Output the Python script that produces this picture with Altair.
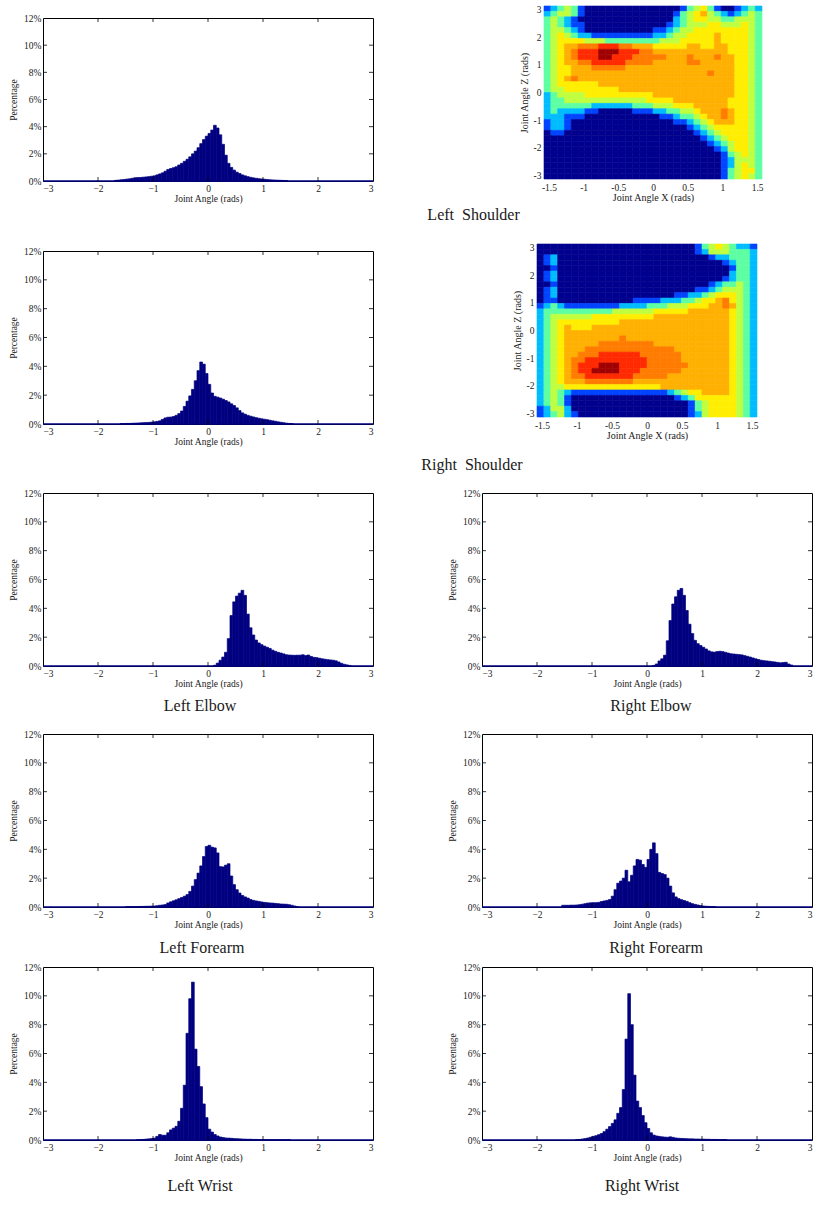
import math
import altair as alt
import pandas as pd

SERIF = "Liberation Serif"
NAVY = "#000080"
INK = "#1a1a1a"

# ---------------------------------------------------------------- histograms
# percentage of frames per 0.05 rad bin, listed from the bin that starts at *_START
BIN = 0.05
X_TICKS = [-3, -2, -1, 0, 1, 2, 3]
Y_TICKS = [0, 2, 4, 6, 8, 10, 12]

LS_START = -1.70
LS = [0.05, 0.07, 0.09, 0.11, 0.14, 0.16, 0.20, 0.24, 0.25, 0.26, 0.28, 0.30, 0.32, 0.35,
      0.38, 0.45, 0.52, 0.60, 0.72, 0.85, 0.92, 0.98, 1.05, 1.18, 1.30, 1.45, 1.60, 1.78,
      2.00, 2.20, 2.45, 2.75, 3.05, 3.30, 3.50, 3.75, 4.10, 3.90, 3.40, 2.70, 1.90, 1.30,
      1.00, 0.80, 0.65, 0.55, 0.45, 0.38, 0.32, 0.27, 0.23, 0.20, 0.17, 0.15, 0.13, 0.11,
      0.09, 0.08, 0.07, 0.06, 0.05, 0.04, 0.03]

RS_START = -1.60
RS = [0.03, 0.03, 0.04, 0.04, 0.05, 0.06, 0.07, 0.08, 0.09, 0.10, 0.11, 0.13, 0.15, 0.18,
      0.22, 0.32, 0.42, 0.47, 0.48, 0.52, 0.60, 0.72, 0.90, 1.22, 1.58, 1.95, 2.40, 3.00,
      3.70, 4.30, 4.15, 3.50, 2.75, 2.15, 1.92, 1.86, 1.80, 1.72, 1.63, 1.53, 1.40, 1.28,
      1.12, 0.93, 0.77, 0.68, 0.60, 0.54, 0.49, 0.44, 0.40, 0.36, 0.33, 0.30, 0.26, 0.22,
      0.19, 0.15, 0.12, 0.09, 0.06, 0.04, 0.03]

LE_START = 0.10
LE = [0.05, 0.20, 0.40, 0.62, 0.95, 1.90, 3.50, 4.45, 4.85, 5.05, 5.25, 4.90, 3.60, 2.65,
      2.15, 1.80, 1.60, 1.48, 1.38, 1.30, 1.22, 1.10, 1.02, 0.95, 0.90, 0.84, 0.78, 0.76,
      0.75, 0.74, 0.75, 0.75, 0.78, 0.72, 0.76, 0.66, 0.60, 0.58, 0.54, 0.50, 0.47, 0.44,
      0.42, 0.40, 0.36, 0.28, 0.19, 0.12, 0.08, 0.04]

RE_START = 0.10
RE = [0.04, 0.14, 0.35, 0.50, 0.75, 1.75, 3.15, 4.30, 4.80, 5.25, 5.38, 4.90, 3.85, 2.90,
      2.25, 1.78, 1.55, 1.42, 1.30, 1.18, 1.05, 0.98, 0.96, 1.00, 1.02, 1.00, 0.95, 0.90,
      0.85, 0.83, 0.81, 0.79, 0.77, 0.72, 0.67, 0.62, 0.56, 0.50, 0.45, 0.40, 0.37, 0.35,
      0.33, 0.30, 0.28, 0.25, 0.22, 0.24, 0.26, 0.14, 0.07]

LF_START = -1.50
LF = [0.02, 0.02, 0.03, 0.03, 0.03, 0.04, 0.04, 0.05, 0.05, 0.06, 0.07, 0.09, 0.12, 0.14,
      0.17, 0.28, 0.36, 0.43, 0.50, 0.58, 0.66, 0.75, 0.86, 1.08, 1.45, 1.90, 2.35, 2.85,
      3.50, 4.20, 4.28, 4.15, 4.10, 3.75, 2.80, 2.78, 2.90, 3.00, 2.15, 1.55, 1.20, 0.97,
      0.80, 0.70, 0.62, 0.52, 0.46, 0.42, 0.39, 0.35, 0.32, 0.30, 0.28, 0.27, 0.25, 0.23,
      0.21, 0.20, 0.19, 0.16, 0.12, 0.07, 0.02]

RF_START = -1.55
RF = [0.12, 0.12, 0.12, 0.13, 0.13, 0.14, 0.16, 0.19, 0.23, 0.27, 0.29, 0.30, 0.30, 0.32,
      0.38, 0.42, 0.46, 0.52, 0.75, 1.20, 1.65, 1.80, 2.00, 2.55, 1.75, 2.20, 2.85, 3.30,
      3.25, 2.95, 2.75, 3.30, 4.00, 4.45, 3.70, 2.40, 2.32, 2.25, 2.00, 1.45, 0.98, 0.70,
      0.58, 0.51, 0.45, 0.39, 0.30, 0.23, 0.18, 0.14, 0.10, 0.07, 0.05, 0.04, 0.03, 0.02]

LW_START = -1.30
LW = [0.02, 0.03, 0.04, 0.06, 0.08, 0.10, 0.13, 0.25, 0.38, 0.33, 0.33, 0.50, 0.70, 0.82,
      0.95, 1.30, 2.20, 3.80, 7.40, 9.80, 10.95, 6.30, 5.10, 3.70, 2.50, 1.55, 0.75, 0.55,
      0.38, 0.28, 0.21, 0.17, 0.14, 0.13, 0.12, 0.10, 0.09, 0.08, 0.07, 0.06, 0.05, 0.05,
      0.04, 0.04, 0.03, 0.03, 0.03, 0.03, 0.02, 0.02, 0.02, 0.02, 0.02, 0.02, 0.02, 0.02]

RW_START = -1.30
RW = [0.02, 0.04, 0.07, 0.10, 0.14, 0.19, 0.25, 0.30, 0.37, 0.45, 0.58, 0.75, 0.93, 1.15,
      1.40, 1.85, 2.25, 3.50, 7.00, 10.15, 8.00, 4.50, 2.70, 2.25, 1.70, 1.20, 0.80, 0.50,
      0.34, 0.28, 0.25, 0.22, 0.20, 0.19, 0.22, 0.18, 0.14, 0.12, 0.11, 0.10, 0.09, 0.08,
      0.08, 0.07, 0.07, 0.06, 0.06, 0.05, 0.05, 0.04, 0.04, 0.04, 0.03, 0.03, 0.03]

# ------------------------------------------------------------------ heat maps
# density level 0..9 on a 32 x 32 grid, X in [-pi/2, pi/2] (columns, left to right)
# and Z in [-pi, pi] (rows, top = +pi)
HX_TICKS = [-1.5, -1, -0.5, 0, 0.5, 1, 1.5]
HZ_TICKS = [-3, -2, -1, 0, 1, 2, 3]
JET = ["#00008f", "#0044ff", "#00bcff", "#5dffa2", "#c0ff40",
       "#ffee00", "#ffb000", "#ff7c00", "#ff2a00", "#a00000"]

LEFT_SHOULDER_2D = [
    "12343100000000000000134531001232",
    "23443100000000000001345643212343",
    "34321000000000000002345544334443",
    "34321100000000000012344455444543",
    "34432100000000001123445555555543",
    "34543221111111112234455556555543",
    "34555544433333333444555556555543",
    "34566777888776665555566556655543",
    "34567888999888776666666666655543",
    "34567888998887777766676667665543",
    "34566778888877776666677666665543",
    "34556667777766666666666666665543",
    "34556666666666666666666676665543",
    "34567666666666666666666666665543",
    "34555555666666666666666666665543",
    "34455555555666666666666666665543",
    "23444455555555556666666666665543",
    "23344444444444455556666666655543",
    "23333332222223334445556666655543",
    "23222211000001112233445666765543",
    "22211100000000000112334566765543",
    "12210000000000000001123456665543",
    "12210000000000000000012345555543",
    "01100000000000000000001234555543",
    "00000000000000000000000123455543",
    "00000000000000000000000012345543",
    "00000000000000000000000001245543",
    "00000000000000000000000000134543",
    "00000000000000000000000000124443",
    "00000000000000000000000000124543",
    "00000000000000000000000000134553",
    "00000000000000000000000000134543",
]

RIGHT_SHOULDER_2D = [
    "00000000000000000000000134543221",
    "00000000000000000000000124443332",
    "01200000000000000000000001223332",
    "01200000000000000000000000012332",
    "00100000000000000000000000001332",
    "01200000000000000000000000002332",
    "01200000000000000000000000012332",
    "00100000000000000000000001233432",
    "01200000000000000000000112344432",
    "01200000000000000000112234555432",
    "01100000000000111122233455675432",
    "12321111111122223334445556676432",
    "23333333333444444555556666665432",
    "23444444555555555666666666665432",
    "23455555555566666666666666665432",
    "23456555666666666666666666665432",
    "23456666666666666666666666665432",
    "23456666666676666666666666665432",
    "23456666677777777666666666665432",
    "23456667777777777777666666665432",
    "23456677788888877777766666665432",
    "23456778888888887777766666665432",
    "23456788899988887777776666665432",
    "23456788999988877777766666665432",
    "23456778888888777776666666665432",
    "23456667777777666666666666665432",
    "23445555555555555566666666665432",
    "23432111111111111112345566665432",
    "23431000000000000000123555555432",
    "23431000000000000000001345555432",
    "12442000000000000000001345555432",
    "12342100000000000000001245555432",
]

FONT_AXIS = 9.5
FONT_TITLE = 16


def hist_panel(start, vals, w=330, h=173, title=None, dx=0, offset=14):
    df = pd.DataFrame({"a0": [round(start + i * BIN, 3) for i in range(len(vals))],
                       "pct": vals})
    df["a1"] = df["a0"] + BIN
    df["base"] = 0.0
    xs = alt.Scale(domain=[X_TICKS[0], X_TICKS[-1]], nice=False, zero=False)
    ys = alt.Scale(domain=[Y_TICKS[0], Y_TICKS[-1]], nice=False)
    x_axis = alt.Axis(values=X_TICKS, format="d", title="Joint Angle (rads)",
                      labelOverlap=False, labelPadding=2, titlePadding=1)
    y_axis = alt.Axis(values=Y_TICKS, labelExpr="datum.value + '%'",
                      labelOverlap=False, title="Percentage",
                      labelPadding=2, titlePadding=5)
    X = lambda f: alt.X(f, scale=xs, axis=x_axis)
    Y = lambda f: alt.Y(f, scale=ys, axis=y_axis)

    bars = alt.Chart(df).mark_rect(color=NAVY, stroke=NAVY, strokeWidth=0.7).encode(
        x=X("a0:Q"), x2="a1:Q", y=Y("pct:Q"), y2="base:Q")
    ends = pd.DataFrame({"a0": [X_TICKS[0]], "a1": [X_TICKS[-1]], "pct": [0.0]})
    baseline = alt.Chart(ends).mark_rule(color=NAVY, strokeWidth=1.6).encode(
        x=X("a0:Q"), x2="a1:Q", y=Y("pct:Q"))
    # inward tick marks on all four sides of the frame
    xt = pd.DataFrame({"a0": X_TICKS[1:-1]})
    yt = pd.DataFrame({"pct": Y_TICKS[1:-1]})
    tick = dict(color="black", strokeWidth=0.8)
    top = alt.Chart(xt).mark_rule(**tick).encode(
        x=X("a0:Q"), y=alt.value(0), y2=alt.value(4))
    bottom = alt.Chart(xt).mark_rule(**tick).encode(
        x=X("a0:Q"), y=alt.value(h), y2=alt.value(h - 4))
    left = alt.Chart(yt).mark_rule(**tick).encode(
        y=Y("pct:Q"), x=alt.value(0), x2=alt.value(4))
    right = alt.Chart(yt).mark_rule(**tick).encode(
        y=Y("pct:Q"), x=alt.value(w), x2=alt.value(w - 4))
    props = dict(width=w, height=h)
    if title:
        props["title"] = alt.TitleParams(title, orient="bottom", anchor="middle",
                                         font=SERIF, fontSize=FONT_TITLE,
                                         fontWeight="normal", color=INK,
                                         dx=dx, offset=offset)
    return alt.layer(bars, baseline, top, bottom, left, right).properties(**props)


def heat_panel(grid, w=220, h=173):
    nr, nc = len(grid), len(grid[0])
    x_lo, x_hi = -math.pi / 2, math.pi / 2
    z_lo, z_hi = -math.pi, math.pi
    cw = (x_hi - x_lo) / nc
    ch = (z_hi - z_lo) / nr
    recs = []
    for r, row in enumerate(grid):
        for c, lv in enumerate(row):
            recs.append({"x0": x_lo + c * cw, "x1": x_lo + (c + 1) * cw,
                         "z1": z_hi - r * ch, "z0": z_hi - (r + 1) * ch,
                         "lvl": int(lv)})
    df = pd.DataFrame(recs)
    hyphen = "replace(format(datum.value, '~g'), '\u2212', '-')"
    jet = alt.Scale(domain=list(range(10)), range=JET)
    return alt.Chart(df).mark_rect(strokeWidth=0.6).encode(
        x=alt.X("x0:Q", scale=alt.Scale(domain=[x_lo, x_hi], nice=False, zero=False),
                axis=alt.Axis(values=HX_TICKS, labelExpr=hyphen, labelOverlap=False,
                              title="Joint Angle X (rads)", labelFontSize=9.5,
                              titleFontSize=10, labelPadding=3, titlePadding=1)),
        x2="x1:Q",
        y=alt.Y("z0:Q", scale=alt.Scale(domain=[z_lo, z_hi], nice=False, zero=False),
                axis=alt.Axis(values=HZ_TICKS, labelExpr=hyphen, labelOverlap=False,
                              title="Joint Angle Z (rads)", labelFontSize=9.5,
                              titleFontSize=10, labelPadding=3, titlePadding=4)),
        y2="z1:Q",
        color=alt.Color("lvl:O", scale=jet, legend=None),
        stroke=alt.Stroke("lvl:O", scale=jet, legend=None),
    ).properties(width=w, height=h,
                 view=alt.ViewBackground(stroke="transparent", strokeWidth=0))


def spacer(h, w=2):
    return alt.Chart(pd.DataFrame({"v": [0]})).mark_point(opacity=0, size=1).encode(
        x=alt.value(w / 2), y=alt.value(h / 2)
    ).properties(width=w, height=h,
                 view=alt.ViewBackground(stroke="transparent", strokeWidth=0))


def row_title(text, dx, offset):
    return alt.TitleParams(text, orient="bottom", anchor="middle", font=SERIF,
                           fontSize=FONT_TITLE, fontWeight="normal", color=INK,
                           dx=dx, offset=offset)


row1 = alt.hconcat(
    alt.vconcat(spacer(6), hist_panel(LS_START, LS, h=163), spacing=0),
    heat_panel(LEFT_SHOULDER_2D, w=218),
    spacing=144,
    title=row_title("Left\u00a0 Shoulder", 88, 3),
)
row2 = alt.hconcat(
    alt.vconcat(spacer(1), hist_panel(RS_START, RS), spacing=0),
    heat_panel(RIGHT_SHOULDER_2D, w=220),
    spacing=137,
    title=row_title("Right\u00a0 Shoulder", 89, 10),
)
row3 = alt.hconcat(
    hist_panel(LE_START, LE, title="Left Elbow", dx=-8, offset=10),
    hist_panel(RE_START, RE, title="Right Elbow", dx=4, offset=10),
    spacing=72,
)
row4 = alt.hconcat(
    hist_panel(LF_START, LF, title="Left Forearm", dx=-6, offset=11),
    hist_panel(RF_START, RF, title="Right Forearm", dx=9, offset=11),
    spacing=72,
)
row5 = alt.hconcat(
    hist_panel(LW_START, LW, title="Left Wrist", dx=-8, offset=16),
    hist_panel(RW_START, RW, title="Right Wrist", dx=-5, offset=16),
    spacing=72,
)

chart = alt.vconcat(
    row1, spacer(19), row2, spacer(14), row3, spacer(13), row4, spacer(4), row5,
    spacing=0,
).properties(
    padding={"left": 8, "top": 4, "right": 4, "bottom": 4},
    background="white",
).configure_view(
    stroke="black", strokeWidth=1,
).configure_axis(
    labelFont=SERIF, titleFont=SERIF, labelFontSize=FONT_AXIS, titleFontSize=FONT_AXIS,
    titleFontWeight="normal", labelColor=INK, titleColor=INK,
    ticks=False, domain=False, grid=False, labelOverlap=False,
)

chart.save("out.html", embed_options={"renderer": "svg", "actions": False})
